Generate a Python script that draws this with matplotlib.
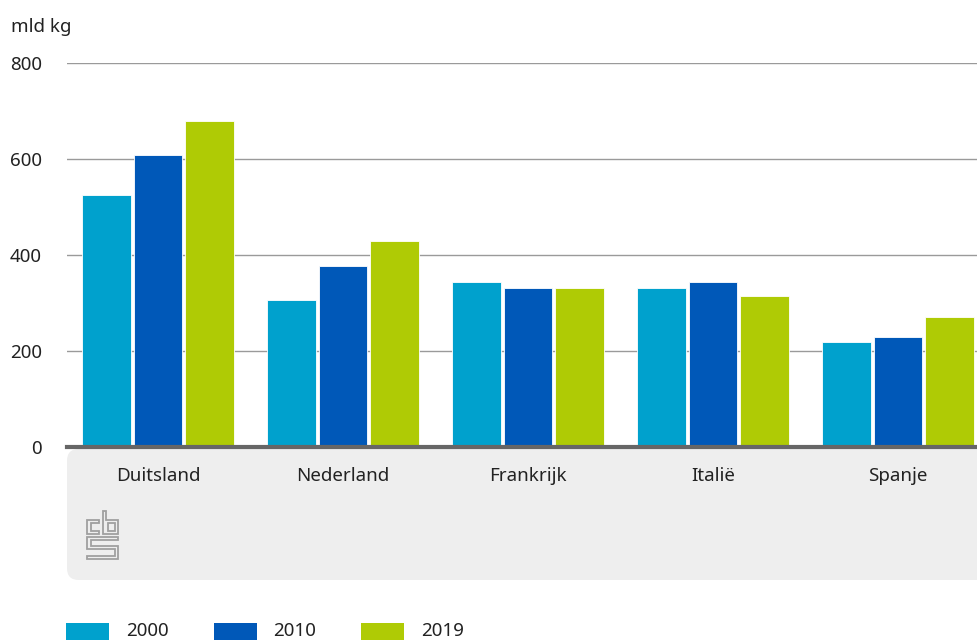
import numpy as np
import matplotlib
matplotlib.use("Agg")
import matplotlib.pyplot as plt
from matplotlib.patches import FancyBboxPatch, Rectangle, Polygon

plt.rcParams["font.family"] = ["Noto Sans", "DejaVu Sans"]

countries = ["Duitsland", "Nederland", "Frankrijk", "Italië", "Spanje"]
years = ["2000", "2010", "2019"]
v2000 = [525, 306, 344, 331, 219]
v2010 = [608, 377, 331, 344, 229]
v2019 = [679, 429, 331, 315, 271]
colors = ["#00a1cd", "#0058b8", "#afcb05"]

W, H = 977, 640
FS = 13.5
TXT = "#222222"
fig = plt.figure(figsize=(W / 100, H / 100), dpi=100)

# grey panel under the axis holding the category labels and logo
panel = FancyBboxPatch((67 / W, 60 / H), 930 / W, 131 / H,
                       boxstyle="round,pad=0,rounding_size=0.012",
                       transform=fig.transFigure, facecolor="#eeeeee",
                       edgecolor="none", zorder=-1, mutation_aspect=W / H)
fig.patches.append(panel)

ax = fig.add_axes([67 / W, (H - 447) / H, 1 - 67 / W, 384 / H])
ax.patch.set_alpha(0)

x = np.arange(len(countries))
offsets = [-0.278, 0, 0.278]
for vals, off, c, lab in zip([v2000, v2010, v2019], offsets, colors, years):
    ax.bar(x + off, vals, width=0.262, color=c, label=lab, zorder=3,
           edgecolor="white", linewidth=0.6)

ax.set_xlim(-0.492, 4.427)
ax.set_ylim(0, 800)
ax.set_yticks([0, 200, 400, 600, 800])
ax.yaxis.grid(True, color="#9a9a9a", linewidth=1)
ax.set_axisbelow(True)
for s in ["top", "right", "left"]:
    ax.spines[s].set_visible(False)
ax.spines["bottom"].set_color("#666666")
ax.spines["bottom"].set_linewidth(3)
ax.spines["bottom"].set_zorder(4)
ax.tick_params(axis="y", length=0, pad=18, labelsize=FS, labelcolor=TXT)
ax.tick_params(axis="x", length=0, pad=14.5, labelsize=FS, labelcolor=TXT)
ax.set_xticks(x)
ax.set_xticklabels(countries)

fig.text(11 / W, 1 - 27 / H, "mld kg", fontsize=FS, color=TXT,
         va="center", ha="left")

# cbs logo as grey outlines (pixel coords, y down)
logo = [
    [(99.3, 520), (87.3, 520), (87.3, 534.3), (99.3, 534.3), (99.3, 531),
     (90.7, 531), (90.7, 523.3), (99.3, 523.3)],
    [(102.7, 511), (106, 511), (106, 520), (118.3, 520), (118.3, 534.3),
     (102.7, 534.3)],
    [(108.3, 523.3), (115, 523.3), (115, 531), (108.3, 531)],
    [(118.3, 536.7), (87.3, 536.7), (87.3, 549), (115, 549), (115, 556),
     (87.3, 556), (87.3, 559.3), (118.3, 559.3), (118.3, 545.7),
     (90.7, 545.7), (90.7, 540), (118.3, 540)],
]
for pts in logo:
    fig.patches.append(Polygon([(px / W, 1 - py / H) for px, py in pts],
                               closed=True, transform=fig.transFigure,
                               facecolor="none", edgecolor="#a0a0a0",
                               linewidth=1.3))

# legend
for i, (lab, c) in enumerate(zip(years, colors)):
    x0 = 66 + 147.5 * i
    fig.patches.append(Rectangle((x0 / W, 0), 43 / W, 17 / H,
                                 transform=fig.transFigure, facecolor=c,
                                 edgecolor="none"))
    fig.text((x0 + 60) / W, 1 - 631 / H, lab, fontsize=FS,
             color=TXT, va="center", ha="left")

fig.savefig("out.png", dpi=100)
